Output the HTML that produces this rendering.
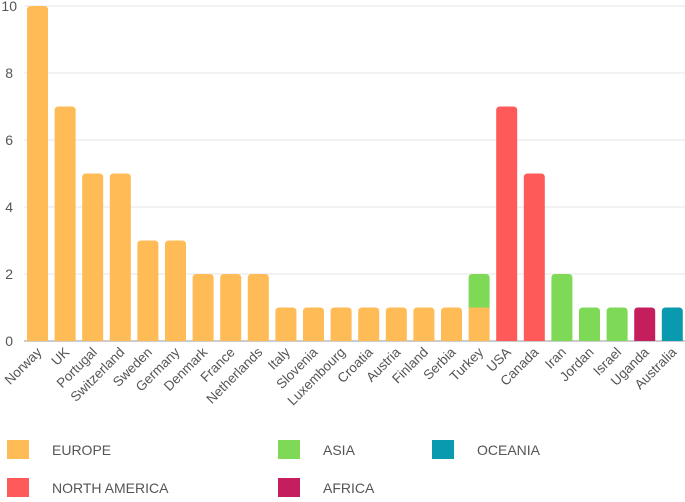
<!DOCTYPE html>
<html><head><meta charset="utf-8"><style>
body{margin:0;background:#fff;font-family:"Liberation Sans",sans-serif;}
svg text{font-family:"Liberation Sans",sans-serif;}
</style></head><body>
<svg id="chart" width="685" height="497">
<g id="grid"></g><g id="bars"></g><g id="xlabels"></g><g id="legend"></g>
</svg>
<script>
const categories=["Norway","UK","Portugal","Switzerland","Sweden","Germany","Denmark","France","Netherlands","Italy","Slovenia","Luxembourg","Croatia","Austria","Finland","Serbia","Turkey","USA","Canada","Iran","Jordan","Israel","Uganda","Australia"];
const europe=[10,7,5,5,3,3,2,2,2,1,1,1,1,1,1,1,1,0,0,0,0,0,0,0];
const northAmerica=[0,0,0,0,0,0,0,0,0,0,0,0,0,0,0,0,0,7,5,0,0,0,0,0];
const asia=[0,0,0,0,0,0,0,0,0,0,0,0,0,0,0,0,1,0,0,2,1,1,0,0];
const africa=[0,0,0,0,0,0,0,0,0,0,0,0,0,0,0,0,0,0,0,0,0,0,1,0];
const oceania=[0,0,0,0,0,0,0,0,0,0,0,0,0,0,0,0,0,0,0,0,0,0,0,1];
const yTicks=[0,2,4,6,8,10];
const seriesNames=["EUROPE","NORTH AMERICA","ASIA","AFRICA","OCEANIA"];
const colors=["#FFBB55","#FF5A5A","#7ED957","#C41E5E","#0A9AB0"];
const NS="http://www.w3.org/2000/svg";
const y=v=>341-v*33.5;
const x=i=>37.5+i*27.6;
const bw=21;
function mk(tag,attrs,parent){const e=document.createElementNS(NS,tag);for(const k in attrs)e.setAttribute(k,attrs[k]);parent.appendChild(e);return e;}
const grid=document.getElementById('grid');
yTicks.forEach(t=>{
  const l=mk('line',{x1:24,x2:685,y1:y(t),y2:y(t),stroke:t===0?'#ccc':'#e6e6e6','stroke-width':t===0?2:1},grid);
  
  
  const tx=mk('text',{x:t===10?17:13,y:y(t)+5,'text-anchor':'end','font-size':14,fill:'#555'},grid);
  tx.textContent=t;
  
  
});
const bars=document.getElementById('bars');
const series=[europe,northAmerica,asia,africa,oceania];
categories.forEach((c,i)=>{
  let base=0;
  const segs=series.map((s,k)=>({v:s[i],k})).filter(s=>s.v>0);
  segs.forEach((s,j)=>{
    const top=j===segs.length-1;
    const y0=y(base),y1=y(base+s.v),x0=x(i)-bw/2;const r=top?4:0;
    const d=`M${x0},${y0}V${y1+r}Q${x0},${y1} ${x0+r},${y1}H${x0+bw-r}Q${x0+bw},${y1} ${x0+bw},${y1+r}V${y0}Z`;
    const p=mk('path',{d,fill:colors[s.k]},bars);
    
    
    base+=s.v;
  });
  const t=mk('text',{x:0,y:0,'text-anchor':'end','font-size':13.5,fill:'#555',transform:`translate(${x(i)+5},${353}) rotate(-45)`},document.getElementById('xlabels'));
  t.textContent=c;
  
  
});
const legend=document.getElementById('legend');
const lpos=[[7,440],[7,478],[278,440],[278,478],[432,440]];
seriesNames.forEach((n,k)=>{
  const g=mk('g',{},legend);
  
  
  mk('rect',{x:lpos[k][0],y:lpos[k][1],width:22,height:19,fill:colors[k]},g);
  const t=mk('text',{x:lpos[k][0]+45,y:lpos[k][1]+15,'font-size':14,fill:'#555'},g);
  t.textContent=n;
});
</script>
</body></html>
